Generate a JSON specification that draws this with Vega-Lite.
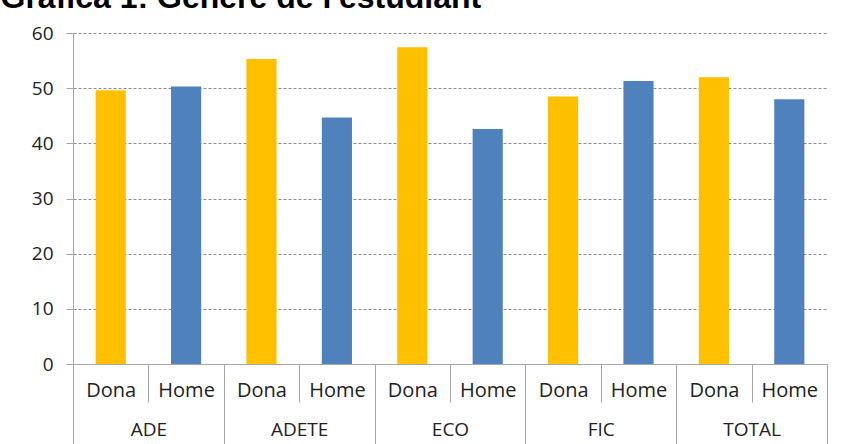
{
  "$schema": "https://vega.github.io/schema/vega-lite/v6.json",
  "autosize": "none",
  "width": 754,
  "height": 331,
  "padding": {"left": 73, "top": 33, "right": 15, "bottom": 80},
  "background": "white",
  "config": {"view": {"stroke": null}},
  "data": {
    "values": [
      {"group": "ADE", "sex": "Dona", "key": "ADE Dona", "value": 49.6},
      {"group": "ADE", "sex": "Home", "key": "ADE Home", "value": 50.3},
      {"group": "ADETE", "sex": "Dona", "key": "ADETE Dona", "value": 55.3},
      {"group": "ADETE", "sex": "Home", "key": "ADETE Home", "value": 44.7},
      {"group": "ECO", "sex": "Dona", "key": "ECO Dona", "value": 57.4},
      {"group": "ECO", "sex": "Home", "key": "ECO Home", "value": 42.6},
      {"group": "FIC", "sex": "Dona", "key": "FIC Dona", "value": 48.5},
      {"group": "FIC", "sex": "Home", "key": "FIC Home", "value": 51.3},
      {"group": "TOTAL", "sex": "Dona", "key": "TOTAL Dona", "value": 52.0},
      {"group": "TOTAL", "sex": "Home", "key": "TOTAL Home", "value": 48.0}
    ]
  },
  "layer": [
    {
      "mark": {"type": "bar", "width": {"band": 0.4}},
      "encoding": {
        "x": {
          "field": "key",
          "type": "nominal",
          "sort": null,
          "scale": {"paddingInner": 0, "paddingOuter": 0},
          "axis": {
            "title": null,
            "labelAngle": 0,
            "labelExpr": "split(datum.value, ' ')[1]",
            "labelFont": "Open Sans",
            "labelFontSize": 20,
            "labelColor": "#222222",
            "labelPadding": -22,
            "tickBand": "extent",
            "tickSize": 38,
            "tickColor": "#a6a6a6",
            "domainColor": "#a6a6a6",
            "grid": false
          }
        },
        "y": {
          "field": "value",
          "type": "quantitative",
          "scale": {"domain": [0, 60], "nice": false},
          "axis": {
            "title": "Gràfica 1: Gènere de l'estudiant",
            "titleFont": "Liberation Sans",
            "titleFontSize": 32,
            "titleFontWeight": "bold",
            "titleColor": "#000000",
            "titleAngle": 0,
            "titleAlign": "left",
            "titleBaseline": "alphabetic",
            "titleX": -73,
            "titleY": -26,
            "values": [0, 10, 20, 30, 40, 50, 60],
            "labelFont": "Open Sans",
            "labelFontSize": 19,
            "labelColor": "#222222",
            "labelPadding": 13,
            "tickSize": 7,
            "tickColor": "#a6a6a6",
            "domainColor": "#a6a6a6",
            "grid": true,
            "gridColor": "#8c8c8c",
            "gridDash": [3, 2],
            "gridWidth": 1
          }
        },
        "color": {
          "field": "sex",
          "type": "nominal",
          "scale": {"domain": ["Dona", "Home"], "range": ["#FFC000", "#4F81BD"]},
          "legend": null
        }
      }
    },
    {
      "mark": {"type": "bar", "opacity": 0},
      "encoding": {
        "x": {
          "field": "group",
          "type": "nominal",
          "sort": null,
          "scale": {"paddingInner": 0, "paddingOuter": 0},
          "axis": {
            "orient": "bottom",
            "title": null,
            "labelAngle": 0,
            "labelFont": "Open Sans",
            "labelFontSize": 19,
            "labelColor": "#222222",
            "labelPadding": -24,
            "tickBand": "extent",
            "tickSize": 80,
            "tickColor": "#a6a6a6",
            "domain": false,
            "grid": false
          }
        }
      }
    }
  ],
  "resolve": {"scale": {"x": "independent"}}
}
